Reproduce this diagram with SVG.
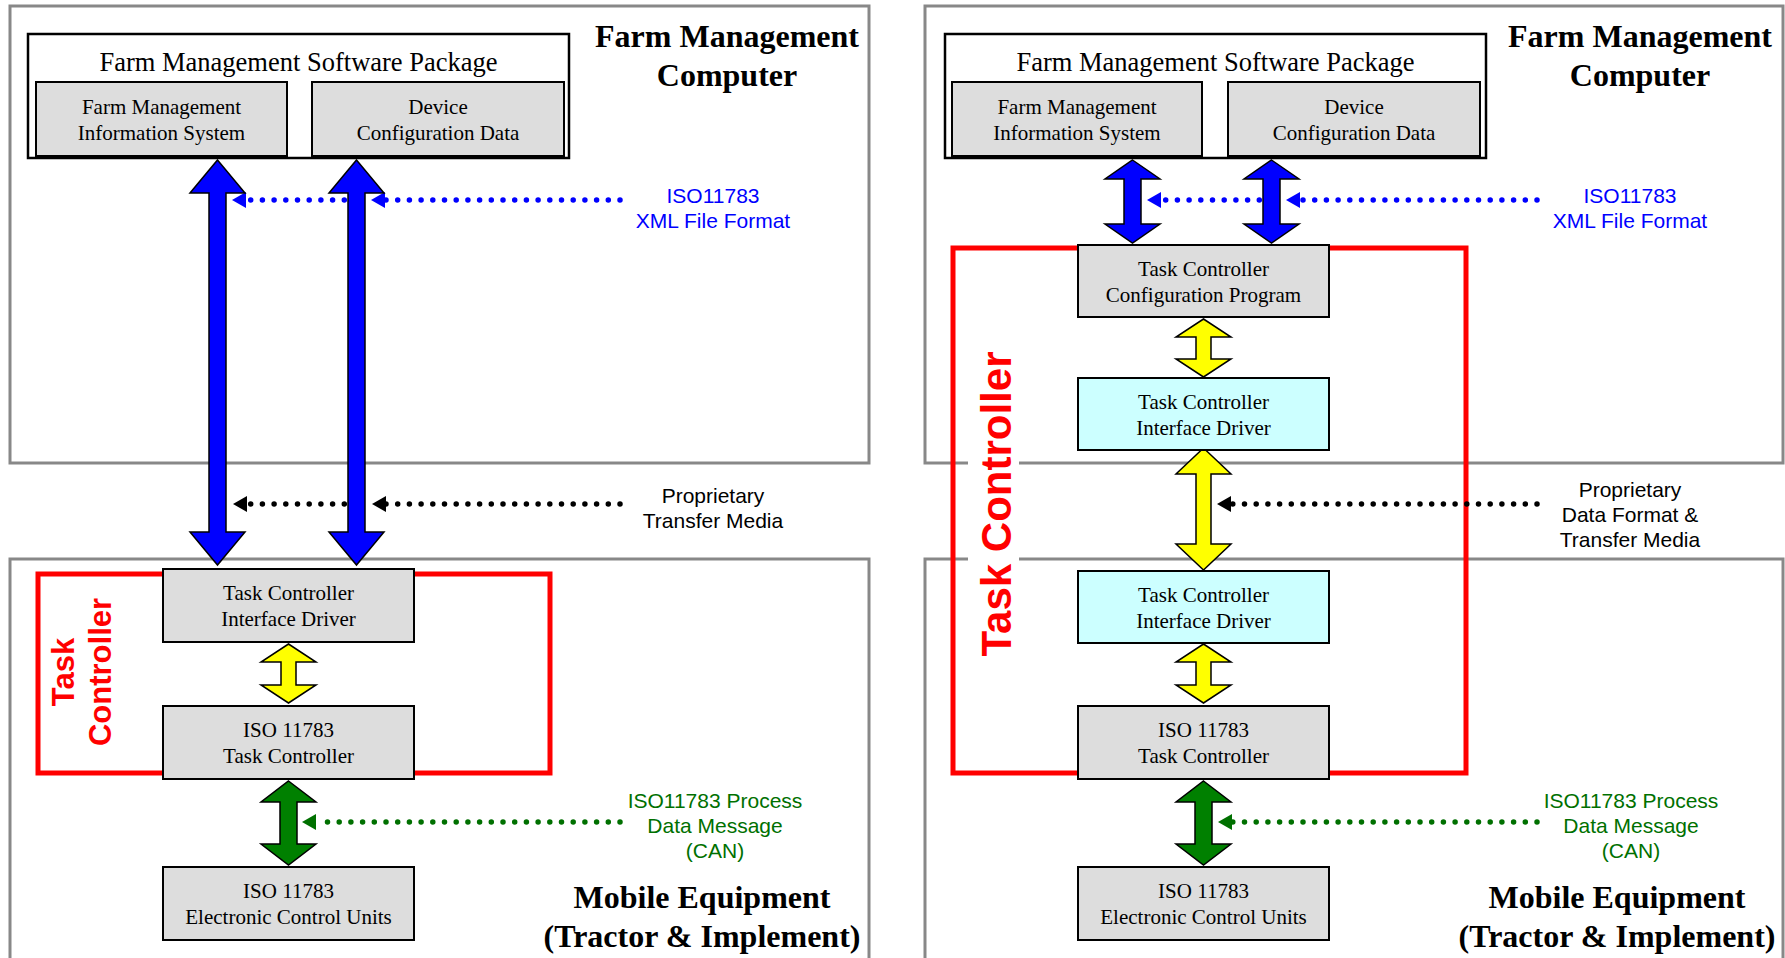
<svg xmlns="http://www.w3.org/2000/svg" width="1785" height="958" viewBox="0 0 1785 958">
<style>
.panel{fill:#fff;stroke:#888;stroke-width:3}
.pkg{fill:#fff;stroke:#000;stroke-width:2.5}
.node{fill:#ddd;stroke:#000;stroke-width:2}
.cyan{fill:#ccffff;stroke:#000;stroke-width:2}
.tc{fill:none;stroke:#f00;stroke-width:5}
.nt{font-family:"Liberation Serif","Times New Roman",serif;font-size:21px;fill:#000;text-anchor:middle}
.pt{font-family:"Liberation Serif","Times New Roman",serif;font-size:26.5px;fill:#000;text-anchor:middle}
.title{font-family:"Liberation Serif","Times New Roman",serif;font-size:32px;font-weight:bold;fill:#000;text-anchor:middle}
.lbl{font-family:"Liberation Sans",Arial,sans-serif;font-size:21px;text-anchor:middle}
.red{font-family:"Liberation Sans",Arial,sans-serif;font-weight:bold;fill:#f00;text-anchor:middle}
.dot{fill:none;stroke-width:5.5;stroke-linecap:round;stroke-dasharray:0 11.7}
.blk{stroke:#000;stroke-width:1.5;stroke-linejoin:miter}
</style>
<defs>
<marker id="mb" viewBox="0 0 14 16" refX="0" refY="8" markerWidth="14" markerHeight="16" markerUnits="userSpaceOnUse" orient="auto"><path d="M0,0 L14,8 L0,16 Z" fill="#00f"/></marker>
<marker id="mk" viewBox="0 0 14 16" refX="0" refY="8" markerWidth="14" markerHeight="16" markerUnits="userSpaceOnUse" orient="auto"><path d="M0,0 L14,8 L0,16 Z" fill="#000"/></marker>
<marker id="mg" viewBox="0 0 14 16" refX="0" refY="8" markerWidth="14" markerHeight="16" markerUnits="userSpaceOnUse" orient="auto"><path d="M0,0 L14,8 L0,16 Z" fill="#007000"/></marker>
</defs>
<rect width="1785" height="958" fill="#fff"/>

<!-- LEFT PANEL -->
<g id="left-computer">
<rect class="panel" x="10" y="6" width="859" height="457"/>
<text class="title" x="727" y="47">Farm Management</text>
<text class="title" x="727" y="86">Computer</text>
</g>
<g id="left-mobile">
<rect class="panel" x="10" y="559" width="859" height="420"/>
<text class="title" x="702" y="908">Mobile Equipment</text>
<text class="title" x="702" y="947">(Tractor &amp; Implement)</text>
</g>
<g id="left-task-controller">
<rect class="tc" x="38" y="574" width="512" height="199"/>
<text class="red" font-size="31" transform="translate(74,672) rotate(-90)">Task</text>
<text class="red" font-size="31" transform="translate(111,672) rotate(-90)">Controller</text>
</g>

<!-- RIGHT PANEL -->
<g id="right-computer">
<rect class="panel" x="925" y="6" width="858" height="457"/>
<text class="title" x="1640" y="47">Farm Management</text>
<text class="title" x="1640" y="86">Computer</text>
</g>
<g id="right-mobile">
<rect class="panel" x="925" y="559" width="858" height="420"/>
<text class="title" x="1617" y="908">Mobile Equipment</text>
<text class="title" x="1617" y="947">(Tractor &amp; Implement)</text>
</g>
<g id="right-task-controller">
<rect class="tc" x="953" y="248" width="513" height="525"/>
<rect x="968" y="345" width="51" height="320" fill="#fff"/>
<text class="red" font-size="42" transform="translate(1011,504) rotate(-90)">Task Controller</text>
</g>

<g id="connectors">
<!-- left dotted -->
<line class="dot" stroke="#00f" x1="620" y1="200" x2="385" y2="200" marker-end="url(#mb)"/>
<line class="dot" stroke="#00f" x1="356" y1="200" x2="246" y2="200" marker-end="url(#mb)"/>
<line class="dot" stroke="#000" x1="620" y1="504" x2="386" y2="504" marker-end="url(#mk)"/>
<line class="dot" stroke="#000" x1="356" y1="504" x2="247" y2="504" marker-end="url(#mk)"/>
<line class="dot" stroke="#007000" x1="620" y1="822" x2="316" y2="822" marker-end="url(#mg)"/>
<!-- right dotted -->
<line class="dot" stroke="#00f" x1="1537" y1="200" x2="1300" y2="200" marker-end="url(#mb)"/>
<line class="dot" stroke="#00f" x1="1271" y1="200" x2="1161" y2="200" marker-end="url(#mb)"/>
<line class="dot" stroke="#000" x1="1537" y1="504" x2="1231" y2="504" marker-end="url(#mk)"/>
<line class="dot" stroke="#007000" x1="1537" y1="822" x2="1232" y2="822" marker-end="url(#mg)"/>
<!-- left block arrows -->
<polygon class="blk" fill="#00f" points="217.5,160 245,193 226,193 226,532 245,532 217.5,565 190,532 209,532 209,193 190,193"/>
<polygon class="blk" fill="#00f" points="356.5,160 384,193 365,193 365,532 384,532 356.5,565 329,532 348,532 348,193 329,193"/>
<polygon class="blk" fill="#ff0" points="288.5,644 316,662 296,662 296,685 316,685 288.5,703 261,685 281,685 281,662 261,662"/>
<polygon class="blk" fill="#008000" points="288.5,781 316,802 297,802 297,844 316,844 288.5,865 261,844 280,844 280,802 261,802"/>
<!-- right block arrows -->
<polygon class="blk" fill="#00f" points="1132.5,160 1160,179 1141,179 1141,224 1160,224 1132.5,243 1105,224 1124,224 1124,179 1105,179"/>
<polygon class="blk" fill="#00f" points="1271.5,160 1299,179 1280,179 1280,224 1299,224 1271.5,243 1244,224 1263,224 1263,179 1244,179"/>
<polygon class="blk" fill="#ff0" points="1203.5,319 1231,337 1211,337 1211,359 1231,359 1203.5,377 1176,359 1196,359 1196,337 1176,337"/>
<polygon class="blk" fill="#ff0" points="1203.5,448 1231,474 1211,474 1211,544 1231,544 1203.5,570 1176,544 1196,544 1196,474 1176,474"/>
<polygon class="blk" fill="#ff0" points="1203.5,644 1231,662 1211,662 1211,685 1231,685 1203.5,703 1176,685 1196,685 1196,662 1176,662"/>
<polygon class="blk" fill="#008000" points="1203.5,781 1231,802 1212,802 1212,844 1231,844 1203.5,865 1176,844 1195,844 1195,802 1176,802"/>
<!-- labels -->
<text class="lbl" fill="#00f" x="713" y="203">ISO11783</text>
<text class="lbl" fill="#00f" x="713" y="228">XML File Format</text>
<text class="lbl" fill="#000" x="713" y="503">Proprietary</text>
<text class="lbl" fill="#000" x="713" y="528">Transfer Media</text>
<text class="lbl" fill="#007000" x="715" y="808">ISO11783 Process</text>
<text class="lbl" fill="#007000" x="715" y="833">Data Message</text>
<text class="lbl" fill="#007000" x="715" y="858">(CAN)</text>
<text class="lbl" fill="#00f" x="1630" y="203">ISO11783</text>
<text class="lbl" fill="#00f" x="1630" y="228">XML File Format</text>
<text class="lbl" fill="#000" x="1630" y="497">Proprietary</text>
<text class="lbl" fill="#000" x="1630" y="522">Data Format &amp;</text>
<text class="lbl" fill="#000" x="1630" y="547">Transfer Media</text>
<text class="lbl" fill="#007000" x="1631" y="808">ISO11783 Process</text>
<text class="lbl" fill="#007000" x="1631" y="833">Data Message</text>
<text class="lbl" fill="#007000" x="1631" y="858">(CAN)</text>
</g>

<!-- LEFT NODES -->
<g id="left-fmsp">
<rect class="pkg" x="28" y="34" width="541" height="124"/>
<text class="pt" x="298.5" y="71">Farm Management Software Package</text>
</g>
<g id="left-fmis">
<rect class="node" x="36" y="82" width="251" height="74"/>
<text class="nt" x="161.5" y="114">Farm Management</text>
<text class="nt" x="161.5" y="140">Information System</text>
</g>
<g id="left-dcd">
<rect class="node" x="312" y="82" width="252" height="74"/>
<text class="nt" x="438" y="114">Device</text>
<text class="nt" x="438" y="140">Configuration Data</text>
</g>
<g id="left-tcid">
<rect class="node" x="163" y="569" width="251" height="73"/>
<text class="nt" x="288.5" y="600">Task Controller</text>
<text class="nt" x="288.5" y="626">Interface Driver</text>
</g>
<g id="left-isotc">
<rect class="node" x="163" y="706" width="251" height="73"/>
<text class="nt" x="288.5" y="737">ISO 11783</text>
<text class="nt" x="288.5" y="763">Task Controller</text>
</g>
<g id="left-ecu">
<rect class="node" x="163" y="867" width="251" height="73"/>
<text class="nt" x="288.5" y="898">ISO 11783</text>
<text class="nt" x="288.5" y="924">Electronic Control Units</text>
</g>

<!-- RIGHT NODES -->
<g id="right-fmsp">
<rect class="pkg" x="945" y="34" width="541" height="124"/>
<text class="pt" x="1215.5" y="71">Farm Management Software Package</text>
</g>
<g id="right-fmis">
<rect class="node" x="952" y="82" width="250" height="74"/>
<text class="nt" x="1077" y="114">Farm Management</text>
<text class="nt" x="1077" y="140">Information System</text>
</g>
<g id="right-dcd">
<rect class="node" x="1228" y="82" width="252" height="74"/>
<text class="nt" x="1354" y="114">Device</text>
<text class="nt" x="1354" y="140">Configuration Data</text>
</g>
<g id="right-tccp">
<rect class="node" x="1078" y="245" width="251" height="72"/>
<text class="nt" x="1203.5" y="276">Task Controller</text>
<text class="nt" x="1203.5" y="302">Configuration Program</text>
</g>
<g id="right-tcid1">
<rect class="cyan" x="1078" y="378" width="251" height="72"/>
<text class="nt" x="1203.5" y="409">Task Controller</text>
<text class="nt" x="1203.5" y="435">Interface Driver</text>
</g>
<g id="right-tcid2">
<rect class="cyan" x="1078" y="571" width="251" height="72"/>
<text class="nt" x="1203.5" y="602">Task Controller</text>
<text class="nt" x="1203.5" y="628">Interface Driver</text>
</g>
<g id="right-isotc">
<rect class="node" x="1078" y="706" width="251" height="73"/>
<text class="nt" x="1203.5" y="737">ISO 11783</text>
<text class="nt" x="1203.5" y="763">Task Controller</text>
</g>
<g id="right-ecu">
<rect class="node" x="1078" y="867" width="251" height="73"/>
<text class="nt" x="1203.5" y="898">ISO 11783</text>
<text class="nt" x="1203.5" y="924">Electronic Control Units</text>
</g>
</svg>
